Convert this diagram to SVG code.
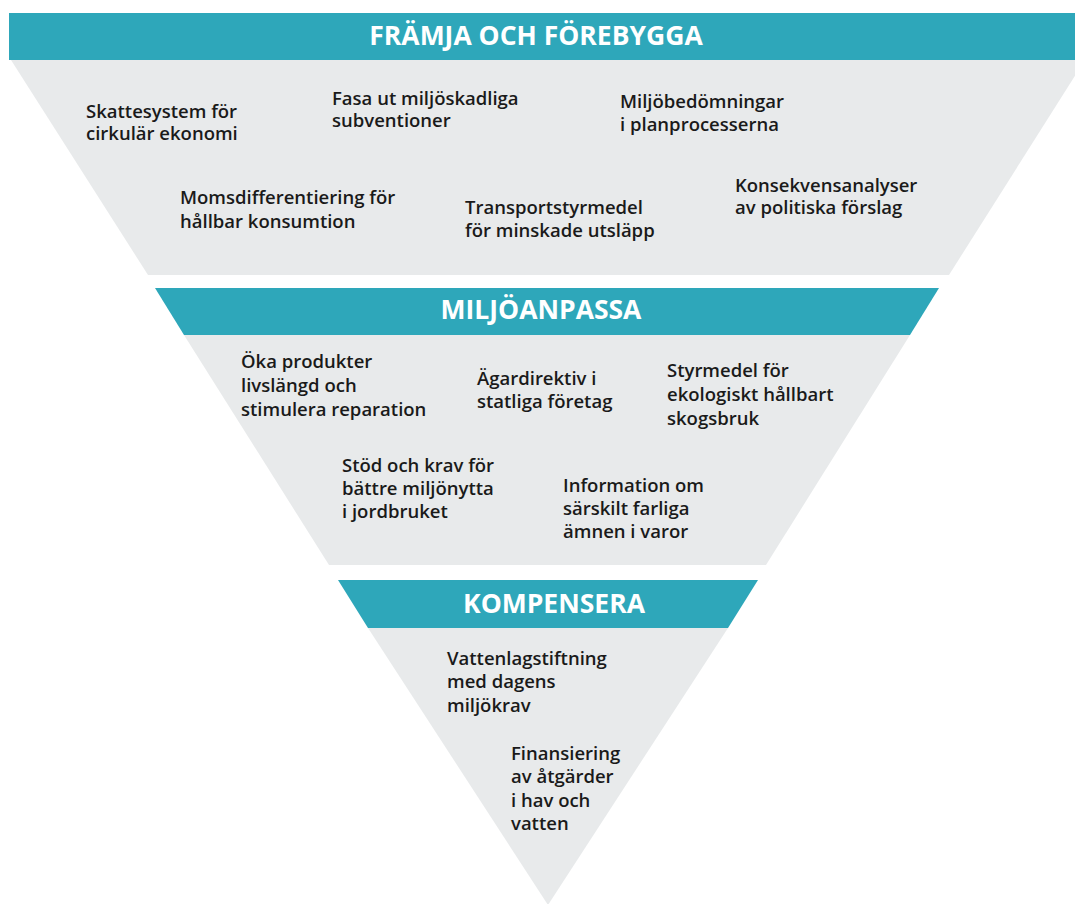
<svg xmlns="http://www.w3.org/2000/svg" width="1075" height="904" viewBox="0 0 1075 904">
<style>
.head{fill:#2ea7ba}
.body{fill:#e8eaeb}
.ht{font-family:"Open Sans","Liberation Sans",sans-serif;font-weight:700;font-size:26.5px;fill:#ffffff;text-anchor:middle}
.t{font-family:"Open Sans","Liberation Sans",sans-serif;font-weight:600;font-size:18.5px;fill:#1a1a1a}
</style>
<rect width="1075" height="904" fill="#ffffff"/>
<g id="band-framja">
<rect class="head" x="9" y="13" width="1066" height="47"/>
<polygon class="body" points="11,60 1085,60 949,275 148,275"/>
<text class="ht" x="536" y="45">FRÄMJA OCH FÖREBYGGA</text>
</g>
<g id="band-miljoanpassa">
<polygon class="head" points="155,288 939,288 910,335 184,335"/>
<polygon class="body" points="184,335 910,335 766,565 329,565"/>
<text class="ht" x="541" y="319">MILJÖANPASSA</text>
</g>
<g id="band-kompensera">
<polygon class="head" points="338,580 758,580 728,628 368,628"/>
<polygon class="body" points="368,628 728,628 548,905"/>
<text class="ht" x="554" y="613">KOMPENSERA</text>
</g>
<g id="connectors"/>
<g id="n1"><text class="t"><tspan x="86" y="118">Skattesystem för</tspan><tspan x="86" y="140">cirkulär ekonomi</tspan></text></g>
<g id="n2"><text class="t"><tspan x="332" y="105">Fasa ut miljöskadliga</tspan><tspan x="332" y="127">subventioner</tspan></text></g>
<g id="n3"><text class="t"><tspan x="620" y="108">Miljöbedömningar</tspan><tspan x="620" y="131">i planprocesserna</tspan></text></g>
<g id="n4"><text class="t"><tspan x="180" y="204">Momsdifferentiering för</tspan><tspan x="180" y="228">hållbar konsumtion</tspan></text></g>
<g id="n5"><text class="t"><tspan x="465" y="214">Transportstyrmedel</tspan><tspan x="465" y="237">för minskade utsläpp</tspan></text></g>
<g id="n6"><text class="t"><tspan x="735" y="192">Konsekvensanalyser</tspan><tspan x="735" y="214">av politiska förslag</tspan></text></g>
<g id="n7"><text class="t"><tspan x="241" y="368">Öka produkter</tspan><tspan x="241" y="392">livslängd och</tspan><tspan x="241" y="416">stimulera reparation</tspan></text></g>
<g id="n8"><text class="t"><tspan x="477" y="385">Ägardirektiv i</tspan><tspan x="477" y="408">statliga företag</tspan></text></g>
<g id="n9"><text class="t"><tspan x="667" y="377">Styrmedel för</tspan><tspan x="667" y="401">ekologiskt hållbart</tspan><tspan x="667" y="425">skogsbruk</tspan></text></g>
<g id="n10"><text class="t"><tspan x="342" y="472">Stöd och krav för</tspan><tspan x="342" y="495">bättre miljönytta</tspan><tspan x="342" y="518">i jordbruket</tspan></text></g>
<g id="n11"><text class="t"><tspan x="563" y="492">Information om</tspan><tspan x="563" y="515">särskilt farliga</tspan><tspan x="563" y="538">ämnen i varor</tspan></text></g>
<g id="n12"><text class="t"><tspan x="447" y="665">Vattenlagstiftning</tspan><tspan x="447" y="688">med dagens</tspan><tspan x="447" y="712">miljökrav</tspan></text></g>
<g id="n13"><text class="t"><tspan x="511" y="760">Finansiering</tspan><tspan x="511" y="783">av åtgärder</tspan><tspan x="511" y="807">i hav och</tspan><tspan x="511" y="830">vatten</tspan></text></g>
</svg>
